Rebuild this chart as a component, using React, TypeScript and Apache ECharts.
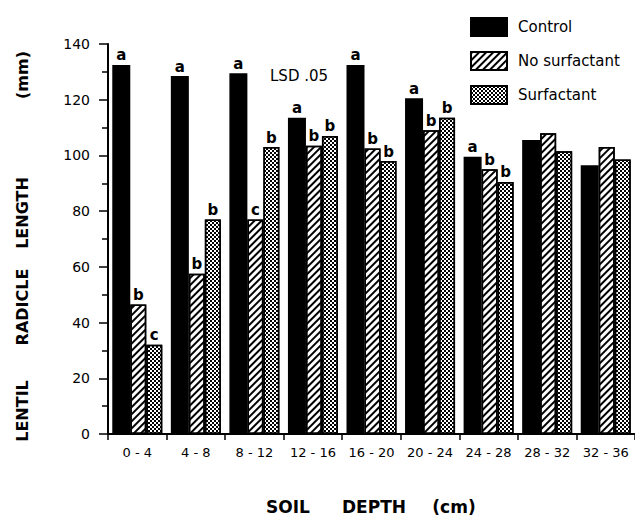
import React, { useEffect, useRef } from "react";
import * as echarts from "echarts";

const categories = ["0 - 4", "4 - 8", "8 - 12", "12 - 16", "16 - 20", "20 - 24", "24 - 28", "28 - 32", "32 - 36"];
const controlValues = [132.5, 128.5, 129.5, 113.5, 132.5, 120.5, 99.5, 105.5, 96.5];
const noSurfactantValues = [46.5, 57.5, 77, 103.5, 102.5, 109, 95, 108, 103];
const surfactantValues = [32, 77, 103, 107, 98, 113.5, 90.5, 101.5, 98.5];
const controlLetters = ["a", "a", "a", "a", "a", "a", "a", "", ""];
const noSurfactantLetters = ["b", "b", "c", "b", "b", "b", "b", "", ""];
const surfactantLetters = ["c", "b", "b", "b", "b", "b", "b", "", ""];
const yTicks = [0, 20, 40, 60, 80, 100, 120, 140];

const FONT = "DejaVu Sans";

export default function App() {
  const ref = useRef<HTMLDivElement>(null);
  useEffect(() => {
    if (!ref.current) return;
    const chart = echarts.init(ref.current, undefined, { renderer: "svg" });
    const letterLabel = (letters: string[]) => ({
      show: true,
      position: "top",
      distance: 2,
      formatter: (p: any) => letters[p.dataIndex],
      color: "#000",
      fontFamily: FONT,
      fontSize: 15,
      fontWeight: "bold",
      backgroundColor: "#fff",
      padding: [0, 1, 0, 1],
    });
    const option: any = {
      animation: false,
      backgroundColor: "#fff",
      textStyle: { fontFamily: FONT },
      grid: { left: 108, top: 44, width: 530, height: 390, containLabel: false },
      legend: {
        orient: "vertical",
        left: 465,
        top: 12,
        itemWidth: 36,
        itemHeight: 18,
        itemGap: 14,
        icon: "rect",
        textStyle: { fontFamily: FONT, fontSize: 15, color: "#000", padding: [0, 0, 0, 6] },
        data: ["Control", "No surfactant", "Surfactant"],
      },
      xAxis: {
        type: "category",
        data: categories,
        axisLine: { lineStyle: { color: "#000", width: 2 } },
        axisTick: { show: true, length: 6, lineStyle: { color: "#000", width: 1.5 } },
        axisLabel: { color: "#000", fontFamily: FONT, fontSize: 13, margin: 12, interval: 0 },
      },
      yAxis: {
        type: "value",
        min: 0,
        max: 140,
        interval: 20,
        axisLine: { show: true, lineStyle: { color: "#000", width: 2 } },
        axisTick: { show: true, length: 9, lineStyle: { color: "#000", width: 1.5 } },
        minorTick: { show: true, splitNumber: 2, length: 6, lineStyle: { color: "#000", width: 1.5 } },
        splitLine: { show: false },
        axisLabel: {
          color: "#000",
          fontFamily: FONT,
          fontSize: 14,
          margin: 18,
          formatter: (v: number) => (yTicks.includes(v) ? String(v) : ""),
        },
      },
      series: [
        {
          name: "Control",
          type: "bar",
          data: controlValues,
          barWidth: 18,
          barGap: "0%",
          itemStyle: { color: "#000", borderColor: "#000", borderWidth: 1.5 },
          label: letterLabel(controlLetters),
        },
        {
          name: "No surfactant",
          type: "bar",
          data: noSurfactantValues,
          barWidth: 16,
          barGap: "0%",
          itemStyle: {
            color: "#fff",
            borderColor: "#000",
            borderWidth: 1.5,
            decal: {
              symbol: "rect",
              symbolSize: 1,
              dashArrayX: [1, 0],
              dashArrayY: [2, 2.5],
              rotation: -Math.PI / 4,
              color: "#000",
            },
          },
          label: letterLabel(noSurfactantLetters),
        },
        {
          name: "Surfactant",
          type: "bar",
          data: surfactantValues,
          barWidth: 16,
          barGap: "0%",
          itemStyle: {
            color: "#fff",
            borderColor: "#000",
            borderWidth: 1.5,
            decal: {
              symbol: "rect",
              symbolSize: 1,
              dashArrayX: [[1.5, 1.5], [0, 1.5, 1.5, 0]],
              dashArrayY: [1.5, 0],
              color: "#000",
            },
          },
          label: letterLabel(surfactantLetters),
        },
      ],
      graphic: [
        { type: "text", x: 270, y: 76, style: { text: "LSD .05", fontFamily: FONT, fontSize: 15, fill: "#000", verticalAlign: "middle" } },
        { type: "text", x: 22, y: 411, rotation: Math.PI / 2, style: { text: "LENTIL", fontFamily: FONT, fontSize: 16, fontWeight: "bold", fill: "#000", align: "center", verticalAlign: "middle" } },
        { type: "text", x: 22, y: 307, rotation: Math.PI / 2, style: { text: "RADICLE", fontFamily: FONT, fontSize: 16, fontWeight: "bold", fill: "#000", align: "center", verticalAlign: "middle" } },
        { type: "text", x: 22, y: 213, rotation: Math.PI / 2, style: { text: "LENGTH", fontFamily: FONT, fontSize: 16, fontWeight: "bold", fill: "#000", align: "center", verticalAlign: "middle" } },
        { type: "text", x: 22, y: 75, rotation: Math.PI / 2, style: { text: "(mm)", fontFamily: FONT, fontSize: 16, fontWeight: "bold", fill: "#000", align: "center", verticalAlign: "middle" } },
        { type: "text", x: 288, y: 507, style: { text: "SOIL", fontFamily: FONT, fontSize: 17, fontWeight: "bold", fill: "#000", align: "center", verticalAlign: "middle" } },
        { type: "text", x: 374, y: 507, style: { text: "DEPTH", fontFamily: FONT, fontSize: 17, fontWeight: "bold", fill: "#000", align: "center", verticalAlign: "middle" } },
        { type: "text", x: 454, y: 507, style: { text: "(cm)", fontFamily: FONT, fontSize: 17, fontWeight: "bold", fill: "#000", align: "center", verticalAlign: "middle" } },
      ],
    };
    chart.setOption(option);
    return () => chart.dispose();
  }, []);
  return (
    <div
      ref={ref}
      style={{ position: "fixed", left: 0, top: 0, width: 635, height: 516, background: "#fff" }}
    />
  );
}
